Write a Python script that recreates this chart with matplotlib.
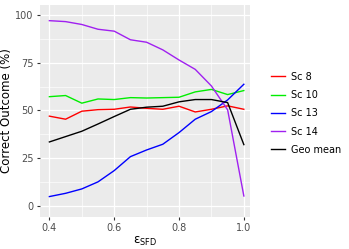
import numpy as np
import matplotlib.pyplot as plt

eps = [0.4, 0.45, 0.5, 0.55, 0.6, 0.65, 0.7, 0.75, 0.8, 0.85, 0.9, 0.95, 1.0]
sc8 = [47.0, 45.4, 49.6, 50.4, 50.6, 51.8, 51.1, 50.6, 52.2, 49.2, 50.6, 52.4, 50.6]
sc10 = [57.2, 57.8, 53.8, 56.0, 55.7, 56.7, 56.5, 56.7, 56.9, 59.7, 61.0, 58.3, 60.4]
sc13 = [4.9, 6.6, 8.9, 12.6, 18.5, 25.8, 29.3, 32.3, 38.4, 45.4, 49.4, 55.5, 63.7]
sc14 = [97.0, 96.5, 95.0, 92.5, 91.5, 87.0, 85.7, 81.7, 76.4, 71.5, 62.8, 50.3, 5.2]
geo = [33.5, 36.3, 39.1, 42.9, 46.8, 50.6, 51.7, 52.2, 54.5, 55.7, 55.7, 54.1, 32.1]

names = ["Sc 8", "Sc 10", "Sc 13", "Sc 14", "Geo mean"]
colors = ["#ff0000", "#00ee00", "#0000ff", "#a020f0", "#000000"]

plt.rcParams["mathtext.fontset"] = "dejavusans"

fig = plt.figure(figsize=(3.49, 2.49), dpi=100)
ax = fig.add_axes([40/349, 32/249, 210/349, 212/249])
ax.set_facecolor("#ebebeb")

for ys, nm, c in zip([sc8, sc10, sc13, sc14, geo], names, colors):
    ax.plot(eps, ys, color=c, lw=1.0, label=nm)

ax.set_xlim(0.371, 1.019)
ax.set_ylim(-5.8, 105.2)
ax.set_xticks([0.4, 0.6, 0.8, 1.0])
ax.set_xticklabels(["0.4", "0.6", "0.8", "1.0"])
ax.set_yticks([0, 25, 50, 75, 100])
ax.set_xticks([0.5, 0.7, 0.9], minor=True)
ax.set_yticks([12.5, 37.5, 62.5, 87.5], minor=True)
ax.grid(True, which="major", color="white", lw=0.9)
ax.grid(True, which="minor", color="white", lw=0.45)
ax.set_axisbelow(True)
for s in ax.spines.values():
    s.set_visible(False)
ax.tick_params(which="major", length=2.5, color="#333333", labelsize=7, labelcolor="#4d4d4d", pad=2)
ax.tick_params(which="minor", length=0)
ax.set_xlabel("ε$_{\\rm SFD}$", fontsize=8.5, labelpad=1)
ax.set_ylabel("Correct Outcome (%)", fontsize=8.5, labelpad=2)

leg = fig.legend(loc="upper left", bbox_to_anchor=(262/349, 186/249), frameon=False,
                 fontsize=7, handlelength=1.5, labelspacing=0.85, handletextpad=0.6)

fig.savefig("out.png", dpi=100)
